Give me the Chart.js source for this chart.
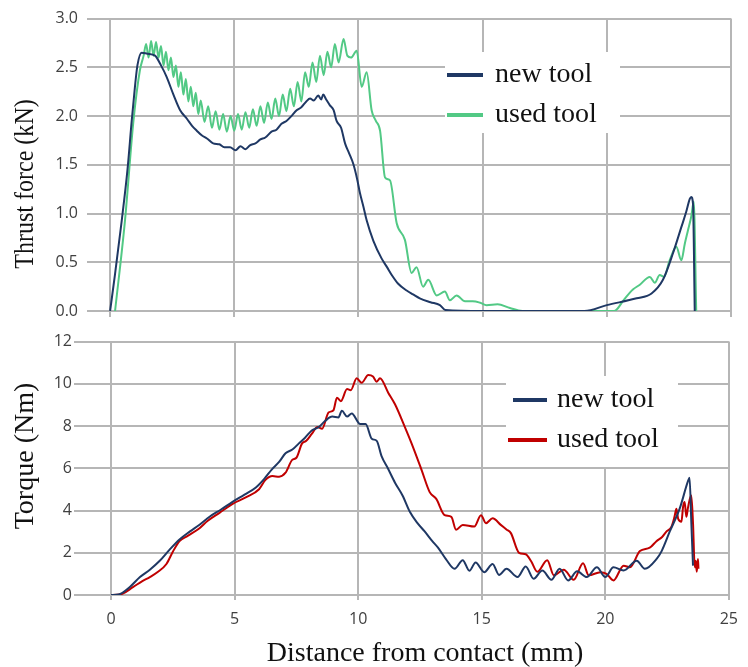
<!DOCTYPE html>
<html>
<head>
<meta charset="utf-8">
<title>Thrust force and torque vs distance</title>
<script src="https://cdn.jsdelivr.net/npm/chart.js@4.4.1/dist/chart.umd.min.js"></script>
<style>
  body { margin: 0; background: #fff; }
  #wrap { position: relative; width: 748px; height: 667px; }
  #thrustChart { position: absolute; left: 0; top: 0; }
  #torqueChart { position: absolute; left: 0; top: 330px; }
</style>
</head>
<body>
<div id="wrap">
  <canvas id="thrustChart" width="748" height="330"></canvas>
  <canvas id="torqueChart" width="748" height="337"></canvas>
</div>
<script>
// valores: [distancia (mm), valor]
const seriesNames = ['new tool', 'used tool'];

const thrustNew = [
  [0,0],[0.2,0.38],[0.47,0.93],[0.7,1.45],[0.87,1.95],[1.0,2.3],[1.1,2.52],[1.27,2.65],[1.5,2.64],[1.81,2.62],
  [2.05,2.52],[2.28,2.40],[2.55,2.22],[2.82,2.06],[3.1,1.97],[3.3,1.90],[3.49,1.85],[3.7,1.80],[3.9,1.77],[4.15,1.72],
  [4.4,1.71],[4.6,1.68],[4.83,1.68],[5.05,1.65],[5.25,1.69],[5.45,1.66],[5.63,1.70],[5.85,1.72],[6.05,1.76],[6.25,1.78],
  [6.5,1.84],[6.7,1.86],[6.9,1.92],[7.1,1.95],[7.3,2.0],[7.51,2.06],[7.7,2.09],[7.9,2.15],[8.05,2.18],[8.2,2.16],
  [8.38,2.21],[8.5,2.17],[8.58,2.22],[8.7,2.17],[8.85,2.11],[9.0,2.06],[9.12,1.95],[9.3,1.88],[9.46,1.72],[9.62,1.62],
  [9.79,1.51],[9.95,1.35],[10.06,1.21],[10.2,1.07],[10.33,0.93],[10.6,0.72],[10.93,0.54],[11.15,0.45],[11.34,0.37],[11.6,0.28],
  [11.94,0.21],[12.2,0.17],[12.47,0.13],[12.9,0.09],[13.28,0.06],[13.5,0.01],[15,0],[17,0],[19.1,0],[20.0,0.06],
  [21.2,0.13],[21.8,0.18],[22.26,0.32],[22.66,0.59],[23.0,0.86],[23.2,1.02],[23.34,1.15],[23.4,1.17],[23.47,1.10],[23.54,0]
];

const thrustUsed = [
  [0.2,0],[0.6,0.93],[0.94,1.95],[1.2,2.47],[1.35,2.62],[1.45,2.74],[1.55,2.6],[1.65,2.77],[1.75,2.62],[1.85,2.76],
  [1.95,2.6],[2.05,2.72],[2.15,2.52],[2.25,2.66],[2.35,2.47],[2.45,2.6],[2.55,2.4],[2.65,2.52],[2.75,2.3],[2.85,2.45],
  [2.95,2.22],[3.05,2.38],[3.15,2.15],[3.25,2.3],[3.35,2.1],[3.45,2.24],[3.55,2.02],[3.65,2.16],[3.8,1.94],[3.95,2.1],
  [4.1,1.88],[4.25,2.05],[4.4,1.86],[4.55,2.02],[4.7,1.84],[4.85,2.0],[5.0,1.85],[5.15,2.02],[5.3,1.86],[5.45,2.04],
  [5.6,1.88],[5.75,2.07],[5.9,1.9],[6.05,2.1],[6.2,1.93],[6.35,2.14],[6.5,1.97],[6.65,2.18],[6.8,2.0],[6.95,2.22],
  [7.1,2.05],[7.25,2.28],[7.4,2.1],[7.55,2.35],[7.7,2.15],[7.85,2.45],[8.0,2.3],[8.15,2.55],[8.3,2.35],[8.45,2.62],
  [8.6,2.42],[8.75,2.66],[8.9,2.5],[9.05,2.74],[9.2,2.55],[9.4,2.79],[9.55,2.62],[9.7,2.6],[9.93,2.67],[10.13,2.30],
  [10.33,2.45],[10.53,2.06],[10.7,1.95],[10.87,1.85],[11.07,1.37],[11.27,1.34],[11.54,0.90],[11.87,0.73],[12.14,0.39],[12.34,0.45],
  [12.6,0.25],[12.81,0.32],[13.15,0.16],[13.48,0.20],[13.68,0.11],[13.95,0.16],[14.29,0.10],[14.6,0.1],[14.9,0.085],[15.16,0.06],
  [15.6,0.07],[16.1,0.03],[16.6,0],[18.5,0],[20.3,0],[20.7,0.12],[21.05,0.22],[21.33,0.27],[21.73,0.35],[21.93,0.29],
  [22.13,0.37],[22.3,0.35],[22.53,0.52],[22.8,0.66],[23.0,0.52],[23.14,0.69],[23.27,0.83],[23.4,0.97],[23.5,1.12],[23.6,0]
];

const torqueNew = [
  [0,0],[0.3,0.02],[0.76,0.38],[1.17,0.85],[1.57,1.2],[1.97,1.62],[2.37,2.15],[2.77,2.63],[3.18,3.0],[3.58,3.33],
  [4.0,3.72],[4.45,4.05],[4.9,4.40],[5.4,4.75],[5.86,5.09],[6.2,5.5],[6.5,5.94],[6.8,6.3],[7.06,6.71],[7.35,6.9],
  [7.6,7.18],[7.85,7.45],[8.12,7.79],[8.4,7.95],[8.67,8.25],[8.95,8.45],[9.2,8.41],[9.34,8.72],[9.55,8.45],[9.74,8.6],
  [10.08,8.10],[10.3,8.1],[10.55,7.4],[10.75,7.3],[10.95,6.56],[11.2,6.0],[11.49,5.32],[11.8,4.7],[12.09,3.94],[12.4,3.4],
  [12.69,3.01],[13.0,2.55],[13.23,2.24],[13.55,1.7],[13.9,1.24],[14.23,1.65],[14.5,1.15],[14.75,1.54],[15.1,1.08],[15.44,1.47],
  [15.7,0.95],[16.0,1.24],[16.45,0.85],[16.78,1.35],[17.1,0.77],[17.45,1.16],[17.82,0.72],[18.15,1.24],[18.5,0.69],[18.86,1.12],
  [19.25,0.85],[19.66,1.31],[20.0,0.85],[20.33,1.31],[20.74,1.16],[21.27,1.62],[21.6,1.24],[22.07,1.70],[22.28,2.08],[22.61,3.01],
  [23.01,4.09],[23.35,5.4],[23.41,5.55],[23.48,3.47],[23.55,1.39]
];

const torqueUsed = [
  [0,0],[0.36,0.02],[0.9,0.38],[1.25,0.65],[1.57,0.85],[1.9,1.1],[2.24,1.47],[2.5,2.05],[2.77,2.55],[3.1,2.8],
  [3.58,3.16],[3.9,3.5],[4.4,3.9],[4.92,4.32],[5.45,4.62],[5.99,5.01],[6.25,5.45],[6.53,5.63],[6.8,5.6],[7.06,5.79],
  [7.33,6.4],[7.5,6.5],[7.73,7.18],[7.9,7.3],[8.13,7.64],[8.35,7.95],[8.54,7.87],[8.8,8.64],[9.0,8.75],[9.14,9.34],
  [9.3,9.18],[9.55,9.75],[9.7,9.7],[9.94,10.26],[10.14,10.05],[10.41,10.42],[10.6,10.35],[10.75,10.1],[10.88,10.26],[11.22,9.57],
  [11.49,9.03],[11.89,7.95],[12.16,7.18],[12.56,5.94],[12.9,4.86],[13.16,4.55],[13.5,3.78],[13.77,3.70],[13.96,3.09],[14.23,3.32],
  [14.7,3.24],[14.97,3.78],[15.17,3.4],[15.44,3.63],[15.77,3.32],[16.0,3.1],[16.18,2.93],[16.51,2.0],[16.78,1.93],[17.0,1.6],
  [17.25,1.1],[17.65,1.65],[17.92,0.93],[18.32,1.2],[18.72,0.72],[19.1,1.5],[19.33,0.93],[19.8,1.08],[20.05,1.0],[20.33,0.69],
  [20.74,1.39],[21.0,1.31],[21.4,2.08],[21.8,2.24],[22.07,2.55],[22.3,2.75],[22.48,3.01],[22.68,3.24],[22.8,3.7],[22.88,4.09],
  [22.95,3.6],[23.08,3.47],[23.15,4.2],[23.21,4.4],[23.28,3.7],[23.34,4.09],[23.41,4.5],[23.48,4.71],[23.55,3.4],[23.62,1.31],
  [23.66,1.62],[23.7,1.1],[23.75,1.7],[23.77,1.24]
];

const xTicks = [0, 5, 10, 15, 20, 25];
const thrustTicks = [0, 0.5, 1.0, 1.5, 2.0, 2.5, 3.0];
const torqueTicks = [0, 2, 4, 6, 8, 10, 12];

const NAVY = '#1f3864';
const GREEN = '#52c985';
const RED = '#c00000';
const GRID = '#b6b6b6';
const TICK = '#404040';

// desenha legenda e titulos dos eixos por cima da grade
const overlay = {
  id: 'overlay',
  beforeDatasetsDraw(chart) {
    const o = chart.config.options.plugins.overlay;
    const ctx = chart.ctx;
    ctx.save();
    ctx.fillStyle = '#fff';
    ctx.fillRect(o.box[0], o.box[1], o.box[2], o.box[3]);
    ctx.font = '28px "Liberation Serif"';
    ctx.textAlign = 'left';
    ctx.textBaseline = 'alphabetic';
    chart.data.datasets.forEach((ds, i) => {
      const it = o.items[i];
      ctx.strokeStyle = ds.borderColor;
      ctx.lineWidth = 4;
      ctx.beginPath();
      ctx.moveTo(it.x0, it.y);
      ctx.lineTo(it.x1, it.y);
      ctx.stroke();
      ctx.fillStyle = '#111';
      ctx.fillText(ds.label, it.tx, it.y + 7);
    });
    ctx.restore();
  },
  afterDraw(chart) {
    const o = chart.config.options.plugins.overlay;
    const ctx = chart.ctx;
    ctx.save();
    ctx.fillStyle = '#111';
    ctx.textAlign = 'center';
    ctx.textBaseline = 'alphabetic';
    const yt = o.yTitle;
    ctx.save();
    ctx.translate(yt.x, yt.y);
    ctx.rotate(-Math.PI / 2);
    ctx.scale(yt.sx, 1);
    ctx.font = yt.size + 'px "Liberation Serif"';
    ctx.fillText(yt.text, 0, 0);
    ctx.restore();
    if (o.xTitle) {
      ctx.font = o.xTitle.size + 'px "Liberation Serif"';
      ctx.fillText(o.xTitle.text, o.xTitle.x, o.xTitle.y);
    }
    ctx.restore();
  }
};

function toPoints(arr) {
  return arr.map(p => ({ x: p[0], y: p[1] }));
}

function lineSet(label, arr, color) {
  return {
    label: label,
    data: toPoints(arr),
    borderColor: color,
    backgroundColor: color,
    borderWidth: 2,
    pointRadius: 0,
    cubicInterpolationMode: 'monotone',
    fill: false
  };
}

function xScale(min, showLabels, tickLen, height) {
  return {
    type: 'linear',
    min: min,
    max: 25,
    afterBuildTicks: s => { s.ticks = xTicks.map(v => ({ value: v })); },
    afterFit: s => { s.height = height; },
    grid: { color: GRID, lineWidth: 2, drawTicks: true, tickLength: tickLen },
    border: { display: false },
    ticks: {
      display: showLabels,
      color: TICK,
      padding: 10,
      maxRotation: 0,
      font: { family: '"Open Sans"', size: 16 }
    }
  };
}

function yScale(tickVals, max, width, pad, fmt) {
  return {
    min: 0,
    max: max,
    afterBuildTicks: s => { s.ticks = tickVals.map(v => ({ value: v })); },
    afterFit: s => { s.width = width; },
    grid: { color: GRID, lineWidth: 2, drawTicks: false },
    border: { display: false },
    ticks: {
      color: TICK,
      padding: pad,
      font: { family: '"Open Sans"', size: 16 },
      callback: fmt
    }
  };
}

new Chart(document.getElementById('thrustChart').getContext('2d'), {
  type: 'line',
  data: {
    datasets: [
      lineSet(seriesNames[0], thrustNew, NAVY),
      lineSet(seriesNames[1], thrustUsed, GREEN)
    ]
  },
  options: {
    responsive: false,
    animation: false,
    events: [],
    layout: { padding: { top: 18, right: 17, bottom: 0, left: 0 } },
    scales: {
      x: xScale(-0.93, false, 6, 19),
      y: yScale(thrustTicks, 3, 87, 9, v => v.toFixed(1))
    },
    plugins: {
      legend: { display: false },
      tooltip: { enabled: false },
      overlay: {
        box: [445, 52, 175, 81],
        items: [
          { x0: 447, x1: 483, tx: 495, y: 75 },
          { x0: 447, x1: 483, tx: 495, y: 115 }
        ],
        yTitle: { text: 'Thrust force (kN)', x: 33, y: 184, size: 27, sx: 0.89 }
      }
    }
  },
  plugins: [overlay]
});

new Chart(document.getElementById('torqueChart').getContext('2d'), {
  type: 'line',
  data: {
    datasets: [
      lineSet(seriesNames[0], torqueNew, NAVY),
      lineSet(seriesNames[1], torqueUsed, RED)
    ]
  },
  options: {
    responsive: false,
    animation: false,
    events: [],
    layout: { padding: { top: 6, right: 15, bottom: 0, left: 0 } },
    scales: {
      x: xScale(-1.5, true, 5, 72),
      y: yScale(torqueTicks, 12, 74, 2, v => String(v))
    },
    plugins: {
      legend: { display: false },
      tooltip: { enabled: false },
      overlay: {
        box: [506, 46, 172, 91],
        items: [
          { x0: 513, x1: 547, tx: 557, y: 70 },
          { x0: 508, x1: 547, tx: 557, y: 110 }
        ],
        yTitle: { text: 'Torque (Nm)', x: 33, y: 126, size: 28, sx: 1 },
        xTitle: { text: 'Distance from contact (mm)', x: 425, y: 331, size: 28 }
      }
    }
  },
  plugins: [overlay]
});
</script>
</body>
</html>
